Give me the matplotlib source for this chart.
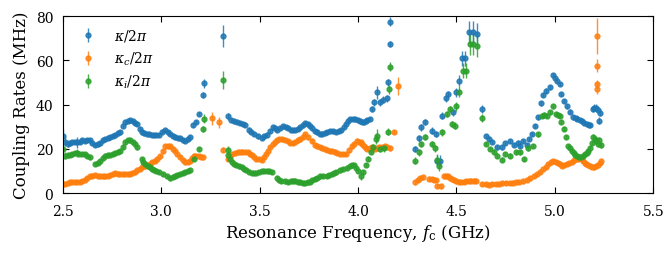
import matplotlib
matplotlib.use("Agg")
import matplotlib.pyplot as plt

# (frequency GHz, rate MHz, error MHz)
kappa = [
    (2.500, 25.9, 3), (2.510, 23.2, 2), (2.523, 22.4, 1.5), (2.535, 22.6, 1), (2.548, 23.0, 1),
    (2.560, 23.2, 1), (2.572, 23.0, 2.5), (2.585, 23.2, 1), (2.598, 23.8, 1), (2.610, 23.6, 1),
    (2.623, 24.0, 1), (2.637, 24.1, 1), (2.650, 22.5, 1), (2.663, 21.7, 1), (2.676, 22.0, 1),
    (2.690, 22.6, 1), (2.703, 23.8, 1), (2.715, 24.4, 1), (2.728, 24.8, 1), (2.740, 25.2, 1),
    (2.753, 25.8, 1), (2.765, 26.2, 1), (2.778, 27.0, 1), (2.790, 27.7, 1), (2.803, 30.5, 1),
    (2.815, 31.9, 1), (2.830, 32.7, 1), (2.843, 32.8, 1), (2.857, 32.4, 1), (2.868, 31.8, 1),
    (2.878, 31.2, 1), (2.890, 29.0, 1), (2.900, 27.4, 1), (2.912, 27.0, 1), (2.925, 26.7, 1),
    (2.938, 26.5, 1), (2.950, 26.2, 1), (2.963, 26.2, 1), (2.975, 26.2, 1), (2.990, 26.2, 1),
    (3.005, 27.8, 1), (3.019, 28.6, 1), (3.032, 27.5, 1), (3.044, 26.7, 1), (3.057, 26.0, 1),
    (3.070, 25.2, 1), (3.083, 24.9, 1), (3.095, 24.7, 1), (3.108, 24.0, 1), (3.120, 23.6, 1),
    (3.133, 24.3, 1), (3.146, 25.2, 1), (3.162, 30.7, 1), (3.175, 32.2, 1), (3.190, 35.7, 1),
    (3.213, 44.3, 1.5), (3.218, 49.7, 2), (3.315, 70.8, 5), (3.337, 34.7, 1.5), (3.354, 33.1, 1),
    (3.370, 32.4, 1), (3.385, 32.0, 1), (3.400, 31.6, 1), (3.413, 31.3, 1), (3.425, 30.9, 1),
    (3.445, 28.7, 1), (3.458, 27.6, 1), (3.470, 26.7, 1), (3.490, 25.6, 1), (3.510, 24.9, 1),
    (3.522, 25.6, 1), (3.535, 26.4, 1), (3.550, 28.0, 1), (3.565, 29.7, 1), (3.578, 29.2, 1),
    (3.590, 28.6, 1), (3.605, 29.4, 1), (3.620, 30.1, 1), (3.633, 29.8, 1), (3.645, 29.4, 1),
    (3.658, 28.6, 1), (3.670, 28.6, 1), (3.680, 28.5, 1), (3.693, 29.0, 1), (3.705, 29.7, 1),
    (3.718, 30.6, 1), (3.730, 31.6, 1), (3.743, 31.0, 1), (3.755, 30.4, 1), (3.768, 29.2, 1),
    (3.780, 28.1, 1), (3.793, 27.4, 1), (3.807, 26.7, 1), (3.818, 26.9, 1), (3.830, 27.1, 1),
    (3.843, 27.6, 1), (3.857, 28.1, 1), (3.873, 27.9, 1), (3.890, 27.7, 1), (3.903, 28.1, 1),
    (3.915, 28.6, 1), (3.928, 29.8, 1), (3.940, 31.1, 1), (3.950, 32.5, 1), (3.960, 33.6, 1),
    (3.973, 33.5, 1), (3.985, 33.3, 1), (3.998, 33.0, 1), (4.010, 32.6, 1), (4.020, 32.2, 1),
    (4.030, 31.9, 1), (4.040, 32.6, 1), (4.047, 33.1, 1), (4.060, 33.4, 1), (4.070, 38.0, 1.5),
    (4.080, 41.0, 1.5), (4.098, 45.5, 3), (4.110, 41.0, 1.5), (4.125, 42.2, 1.5), (4.145, 42.8, 1.5),
    (4.150, 50.0, 1.5), (4.162, 67.3, 1.5), (4.164, 77.4, 2),
    (4.290, 19.9, 1.5), (4.310, 24.7, 1.5), (4.318, 29.7, 1.5), (4.340, 32.2, 1.5), (4.377, 28.2, 1.5),
    (4.395, 26.7, 1.5), (4.403, 14.6, 2.5), (4.418, 14.6, 2.5), (4.425, 35.0, 1.5), (4.446, 42.8, 1.5),
    (4.459, 44.7, 1.5), (4.484, 36.5, 1.5), (4.500, 45.5, 2), (4.513, 50.8, 2.5), (4.530, 60.9, 3.5),
    (4.544, 60.9, 3.5), (4.566, 72.9, 5), (4.583, 72.6, 5), (4.603, 71.9, 5), (4.628, 38.0, 2),
    (4.649, 25.9, 1), (4.665, 24.6, 1), (4.680, 23.0, 1), (4.705, 20.6, 1), (4.730, 20.6, 1),
    (4.747, 22.6, 1), (4.773, 23.5, 1), (4.790, 21.7, 1), (4.815, 22.8, 1), (4.823, 21.4, 1),
    (4.840, 23.6, 1), (4.857, 21.7, 1), (4.870, 24.5, 1), (4.883, 26.7, 1), (4.900, 30.4, 1),
    (4.916, 34.2, 1), (4.928, 40.5, 1), (4.940, 44.3, 1), (4.955, 46.3, 1), (4.975, 47.8, 1),
    (4.990, 53.3, 1), (5.000, 52.0, 1), (5.010, 50.8, 1), (5.024, 49.3, 1), (5.030, 44.7, 1),
    (5.044, 41.7, 1), (5.060, 39.2, 1), (5.077, 36.8, 1), (5.094, 34.2, 1), (5.105, 33.8, 1),
    (5.115, 33.5, 1), (5.127, 33.0, 1), (5.137, 32.7, 1), (5.150, 31.8, 1), (5.162, 31.2, 1),
    (5.172, 30.9, 1), (5.180, 30.7, 1), (5.193, 38.0, 1.5), (5.200, 38.6, 1.5), (5.210, 38.6, 1.5),
    (5.218, 37.5, 1.5), (5.227, 36.3, 1.5), (5.223, 32.7, 1.5),
]

kappa_c = [
    (2.500, 4.3, 1), (2.510, 4.1, 1), (2.523, 4.5, 1), (2.535, 4.8, 1), (2.548, 5.0, 1),
    (2.560, 5.1, 1), (2.572, 5.1, 1), (2.585, 5.1, 1), (2.598, 5.5, 1), (2.610, 6.0, 1),
    (2.623, 6.8, 1), (2.637, 7.5, 1), (2.650, 7.9, 1), (2.663, 8.1, 1), (2.676, 7.8, 1),
    (2.690, 7.5, 1), (2.703, 7.5, 1), (2.715, 7.5, 1), (2.728, 7.8, 1), (2.740, 8.1, 1),
    (2.753, 8.6, 1), (2.765, 9.0, 1), (2.778, 8.8, 1), (2.790, 8.6, 1), (2.803, 8.6, 1),
    (2.815, 8.6, 1), (2.828, 8.6, 1), (2.840, 8.6, 1), (2.853, 9.0, 1), (2.866, 9.3, 1),
    (2.878, 10.2, 1), (2.891, 11.1, 1), (2.904, 11.6, 1), (2.917, 12.1, 1), (2.929, 12.6, 1),
    (2.940, 13.1, 1), (2.953, 13.9, 1), (2.966, 14.6, 1), (2.980, 15.6, 1), (2.993, 16.6, 1),
    (3.006, 19.0, 1), (3.019, 21.1, 1), (3.032, 21.1, 1), (3.044, 21.1, 1), (3.057, 20.1, 1),
    (3.070, 19.1, 1), (3.082, 17.6, 1), (3.095, 16.1, 1), (3.108, 15.0, 1), (3.120, 13.9, 1),
    (3.133, 14.2, 1), (3.146, 14.6, 1), (3.155, 15.8, 1), (3.165, 16.9, 1), (3.178, 16.8, 1),
    (3.190, 16.6, 1), (3.200, 16.3, 1), (3.210, 16.1, 1), (3.256, 33.8, 3), (3.293, 32.0, 2.5),
    (3.315, 19.6, 1), (3.337, 15.6, 1), (3.348, 16.6, 1), (3.360, 17.6, 1), (3.375, 18.0, 1),
    (3.390, 18.4, 1), (3.400, 18.6, 1), (3.410, 18.7, 1), (3.425, 18.6, 1), (3.440, 18.4, 1),
    (3.450, 17.8, 1), (3.460, 17.1, 1), (3.470, 16.4, 1), (3.480, 15.6, 1), (3.495, 15.3, 1),
    (3.510, 15.1, 1), (3.520, 16.3, 1), (3.530, 17.6, 1), (3.540, 19.0, 1), (3.550, 20.6, 1),
    (3.565, 22.0, 1), (3.580, 23.2, 1), (3.590, 23.8, 1), (3.600, 24.4, 1), (3.615, 24.3, 1),
    (3.630, 24.1, 1), (3.643, 23.6, 1), (3.655, 22.7, 1), (3.668, 22.7, 1), (3.680, 23.2, 1),
    (3.693, 23.8, 1), (3.705, 24.4, 1), (3.718, 25.5, 1), (3.730, 26.7, 1), (3.747, 25.2, 1),
    (3.764, 23.7, 1), (3.780, 21.7, 1), (3.793, 21.1, 1), (3.807, 20.6, 1), (3.818, 20.2, 1),
    (3.830, 19.9, 1), (3.843, 19.5, 1), (3.857, 19.1, 1), (3.868, 18.9, 1), (3.880, 18.7, 1),
    (3.895, 18.1, 1), (3.910, 17.6, 1), (3.925, 17.6, 1), (3.940, 17.6, 1), (3.955, 19.3, 1),
    (3.968, 21.1, 1), (3.980, 22.4, 1), (3.993, 23.7, 1), (4.003, 23.3, 1), (4.013, 22.9, 1),
    (4.022, 22.0, 1), (4.030, 21.1, 1), (4.040, 20.5, 1), (4.047, 19.9, 1), (4.058, 20.2, 1),
    (4.070, 20.6, 1), (4.085, 19.9, 1), (4.095, 20.2, 1), (4.107, 20.6, 1), (4.122, 20.9, 1),
    (4.136, 21.1, 1), (4.148, 20.7, 1), (4.160, 20.2, 1), (4.180, 27.7, 1), (4.205, 48.5, 4),
    (4.290, 4.8, 1), (4.303, 5.8, 1), (4.315, 6.6, 1), (4.330, 7.1, 1), (4.360, 6.5, 1),
    (4.374, 6.3, 1), (4.385, 6.1, 1), (4.395, 6.0, 1), (4.403, 3.3, 1), (4.420, 3.0, 1),
    (4.434, 7.5, 1), (4.445, 7.5, 1), (4.455, 7.5, 1), (4.466, 6.9, 1), (4.476, 6.3, 1),
    (4.488, 5.8, 1), (4.500, 5.3, 1), (4.512, 5.2, 1), (4.525, 5.1, 1), (4.538, 5.2, 1),
    (4.550, 5.3, 1), (4.563, 5.5, 1), (4.575, 5.6, 1), (4.588, 5.6, 1), (4.600, 5.6, 1),
    (4.632, 4.1, 1), (4.648, 3.9, 1), (4.665, 3.8, 1), (4.683, 4.0, 1), (4.700, 4.1, 1),
    (4.715, 4.2, 1), (4.730, 4.4, 1), (4.750, 4.5, 1), (4.770, 4.5, 1), (4.785, 4.7, 1),
    (4.800, 4.8, 1), (4.820, 5.0, 1), (4.840, 5.3, 1), (4.858, 5.9, 1), (4.875, 6.6, 1),
    (4.892, 7.6, 1), (4.908, 8.6, 1), (4.925, 9.7, 1), (4.940, 10.8, 1), (4.953, 12.0, 1),
    (4.966, 13.1, 1), (4.980, 13.9, 1), (4.993, 14.6, 1), (5.005, 14.1, 1), (5.018, 13.6, 1),
    (5.027, 13.0, 1), (5.035, 12.3, 1), (5.048, 12.7, 1), (5.060, 13.1, 1), (5.073, 13.6, 1),
    (5.086, 14.1, 1), (5.097, 14.8, 1), (5.108, 15.4, 1), (5.118, 15.6, 1), (5.128, 15.7, 1),
    (5.137, 15.2, 1), (5.145, 14.6, 1), (5.153, 13.8, 1), (5.160, 13.1, 1), (5.170, 12.7, 1),
    (5.180, 12.3, 1), (5.190, 11.9, 1), (5.200, 11.6, 1), (5.210, 12.2, 1), (5.220, 12.7, 1),
    (5.228, 13.6, 1), (5.233, 14.6, 1),
    (5.213, 71.0, 8), (5.213, 57.5, 3), (5.215, 49.3, 2), (5.216, 47.0, 2),
]

kappa_i = [
    (2.500, 19.9, 2.5), (2.510, 16.9, 1.5), (2.523, 17.0, 1), (2.535, 17.1, 1), (2.548, 17.5, 1),
    (2.560, 18.0, 1), (2.570, 18.1, 2), (2.583, 17.8, 1), (2.595, 17.6, 1), (2.610, 17.6, 1),
    (2.623, 16.8, 1), (2.637, 16.1, 1), (2.663, 13.1, 1), (2.676, 13.8, 1), (2.690, 14.6, 1),
    (2.703, 15.8, 1), (2.715, 16.9, 1), (2.728, 17.0, 1), (2.740, 17.1, 1), (2.753, 17.6, 1),
    (2.765, 18.1, 1), (2.778, 18.6, 1), (2.790, 19.1, 1), (2.803, 21.0, 1), (2.815, 22.9, 1),
    (2.830, 24.1, 1), (2.843, 23.8, 1), (2.857, 23.2, 1), (2.868, 22.0, 1), (2.878, 20.6, 1),
    (2.900, 15.4, 1), (2.908, 14.2, 1), (2.917, 13.1, 1), (2.930, 12.1, 1), (2.940, 11.6, 1),
    (2.950, 11.1, 1), (2.963, 10.6, 1), (2.975, 10.1, 1), (2.990, 9.4, 1), (3.010, 8.6, 1),
    (3.028, 7.6, 1), (3.044, 6.6, 1), (3.057, 7.2, 1), (3.070, 7.8, 1), (3.082, 8.2, 1),
    (3.095, 8.6, 1), (3.108, 9.1, 1), (3.120, 9.6, 1), (3.133, 10.0, 1), (3.146, 10.5, 1),
    (3.165, 15.6, 1), (3.190, 19.9, 1), (3.213, 28.9, 1.5), (3.218, 33.7, 2), (3.315, 51.2, 4),
    (3.337, 19.4, 2), (3.340, 17.4, 1), (3.350, 15.5, 1), (3.360, 13.9, 1), (3.370, 13.3, 1),
    (3.380, 12.7, 1), (3.395, 12.1, 1), (3.410, 11.6, 1), (3.420, 11.0, 1), (3.430, 10.5, 1),
    (3.445, 9.7, 1), (3.460, 9.0, 1), (3.470, 9.0, 1), (3.480, 9.0, 1), (3.495, 9.5, 1),
    (3.510, 10.0, 1), (3.522, 10.0, 1), (3.535, 10.0, 1), (3.548, 9.8, 1), (3.560, 9.6, 1),
    (3.586, 6.6, 1), (3.598, 6.0, 1), (3.610, 5.6, 1), (3.628, 5.3, 1), (3.645, 5.1, 1),
    (3.658, 5.4, 1), (3.670, 5.6, 1), (3.680, 5.6, 1), (3.693, 5.2, 1), (3.705, 4.8, 1),
    (3.718, 4.6, 1), (3.730, 4.5, 1), (3.743, 4.8, 1), (3.755, 5.1, 1), (3.768, 5.7, 1),
    (3.780, 6.3, 1), (3.793, 6.9, 1), (3.807, 7.5, 1), (3.822, 7.7, 1), (3.840, 7.8, 1),
    (3.853, 8.2, 1), (3.866, 8.6, 1), (3.878, 9.1, 1), (3.890, 9.6, 1), (3.908, 10.2, 1),
    (3.925, 10.8, 1), (3.943, 11.5, 1), (3.960, 12.3, 1), (3.970, 12.5, 1), (3.980, 12.6, 1),
    (3.990, 11.3, 1), (4.000, 10.0, 1), (4.013, 7.5, 1.5), (4.027, 9.6, 1), (4.040, 12.6, 1),
    (4.050, 15.6, 1), (4.064, 18.7, 1), (4.077, 20.6, 1.5), (4.090, 24.4, 2), (4.098, 25.9, 3),
    (4.110, 19.9, 1.5), (4.130, 20.2, 1.5), (4.150, 27.7, 1.5), (4.155, 47.0, 2), (4.164, 57.1, 2),
    (4.290, 14.6, 1.5), (4.310, 18.4, 1.5), (4.322, 22.2, 1.5), (4.340, 25.3, 1.5), (4.374, 22.1, 1.5),
    (4.390, 20.2, 1.5), (4.400, 15.1, 2.5), (4.412, 12.3, 2.5), (4.428, 27.4, 1.5), (4.450, 35.7, 1.5),
    (4.467, 38.0, 1.5), (4.476, 31.2, 1.5), (4.490, 30.5, 1.5), (4.500, 39.2, 2), (4.515, 45.8, 2.5),
    (4.535, 55.3, 3.5), (4.548, 55.3, 3.5), (4.569, 67.3, 5), (4.586, 67.3, 5), (4.603, 66.3, 5),
    (4.628, 33.9, 2), (4.649, 22.2, 1), (4.670, 19.9, 1), (4.690, 18.7, 1), (4.705, 16.9, 1),
    (4.730, 15.1, 1), (4.747, 17.7, 1), (4.773, 16.9, 1), (4.800, 18.4, 1), (4.823, 18.4, 1),
    (4.843, 15.4, 1), (4.865, 20.2, 1), (4.890, 21.4, 1), (4.916, 26.5, 1), (4.933, 35.0, 1),
    (4.945, 35.5, 1), (4.960, 35.0, 1), (4.975, 36.5, 1), (4.990, 39.2, 1), (5.006, 35.7, 1),
    (5.015, 35.3, 1), (5.024, 35.0, 1), (5.030, 32.0, 1), (5.044, 29.1, 1), (5.057, 25.3, 1),
    (5.069, 21.4, 1), (5.078, 20.3, 1), (5.087, 19.2, 1), (5.095, 18.2, 1), (5.104, 17.2, 1),
    (5.115, 16.6, 1), (5.125, 16.1, 1), (5.135, 16.5, 1), (5.145, 16.9, 1), (5.153, 17.5, 1),
    (5.162, 18.1, 1), (5.170, 19.0, 1), (5.180, 20.2, 1), (5.190, 22.5, 1), (5.196, 25.2, 1.5),
    (5.205, 24.5, 1.5), (5.210, 23.7, 1.5), (5.220, 22.2, 1.5), (5.233, 21.7, 1.5), (5.225, 24.0, 1.5),
]

series = [
    (kappa, "tab:blue", r"$\kappa/2\pi$"),
    (kappa_c, "tab:orange", r"$\kappa_c/2\pi$"),
    (kappa_i, "tab:green", r"$\kappa_i/2\pi$"),
]

plt.rcParams["font.family"] = "DejaVu Serif"
plt.rcParams["mathtext.fontset"] = "dejavuserif"

fig = plt.figure(figsize=(6.7, 2.55), dpi=100)
ax = fig.add_axes([0.094, 0.239, 0.881, 0.694])

for data, color, label in series:
    f, v, e = zip(*data)
    ax.errorbar(f, v, yerr=e, fmt="o", ms=3.5, color=color, alpha=0.85,
                elinewidth=1.0, capsize=0, label=label)

ax.set_xlim(2.5, 5.5)
ax.set_ylim(0, 80)
ax.set_xticks([2.5, 3.0, 3.5, 4.0, 4.5, 5.0, 5.5])
ax.set_yticks([0, 20, 40, 60, 80])
ax.tick_params(direction="in", top=True, right=True, labelsize=10, length=4)
ax.tick_params(axis="x", pad=8)
ax.tick_params(axis="y", pad=7)
ax.set_xlabel(r"Resonance Frequency, $f_\mathrm{c}$ (GHz)", fontsize=12, labelpad=3)
ax.set_ylabel("Coupling Rates (MHz)", fontsize=12, labelpad=4)
ax.legend(loc="upper left", frameon=False, fontsize=10, handletextpad=0.9,
          borderaxespad=0.4, labelspacing=0.45)

fig.savefig("out.png", dpi=100)
